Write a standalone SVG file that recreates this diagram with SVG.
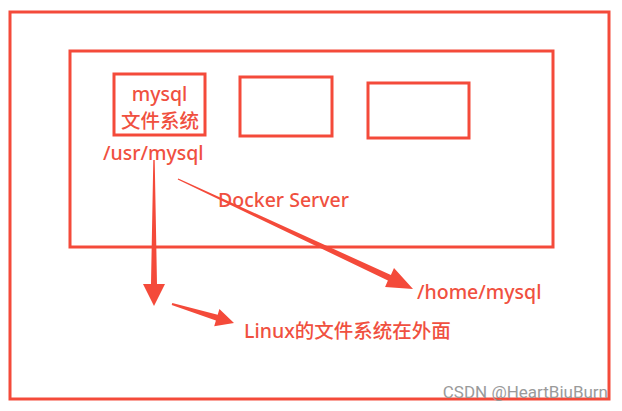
<svg xmlns="http://www.w3.org/2000/svg" width="622" height="411" viewBox="0 0 622 411">
<style>
.box{fill:none;stroke:#f44a3a;stroke-width:3}
.t{fill:#f05040;font-family:"Noto Sans","Noto Sans CJK SC",sans-serif;font-size:19.5px;font-weight:500}
.arr{fill:#f44a3a;stroke:none}
.wm{fill:#9a9a9a;font-family:Roboto,"Liberation Sans",sans-serif;font-size:17px}
</style>
<rect width="622" height="411" fill="#ffffff"/>
<g id="host">
<rect class="box" x="10" y="12" width="599" height="387"/>
</g>
<g id="docker-server">
<rect class="box" x="70" y="51" width="483" height="196"/>
<text class="t" x="218" y="207">Docker Server</text>
</g>
<g id="mysql-fs">
<rect class="box" x="114" y="74" width="91" height="61"/>
<text class="t" x="159.5" y="101" text-anchor="middle" font-size="18.5px">mysql</text>
<text class="t" x="160" y="128" text-anchor="middle" font-size="18.5px">文件系统</text>
</g>
<g id="container2">
<rect class="box" x="240" y="77" width="92" height="59"/>
</g>
<g id="container3">
<rect class="box" x="368" y="83" width="101" height="55"/>
</g>
<g id="usr-mysql">
<text class="t" x="103" y="160">/usr/mysql</text>
</g>
<g id="home-mysql">
<text class="t" x="417" y="299" font-size="20px">/home/mysql</text>
</g>
<g id="linux-fs">
<text class="t" x="244" y="338" font-size="18px">Linux的文件系统在外面</text>
</g>
<g id="connectors">
<polygon class="arr" points="153.3,160 154.7,160 157,284 165,284 154,306 143,284 151,284"/>
<polygon class="arr" points="177.7,179.6 178.3,178.4 390.9,275 394,268 413,289 385.1,287 387.9,280.5"/>
<polygon class="arr" points="171.7,305 172.3,303 217.7,314.8 219.4,309.1 234,323 214.2,326.3 215.9,320.6"/>
</g>
<text class="wm" x="608" y="398" text-anchor="end">CSDN @HeartBiuBurn</text>
</svg>
